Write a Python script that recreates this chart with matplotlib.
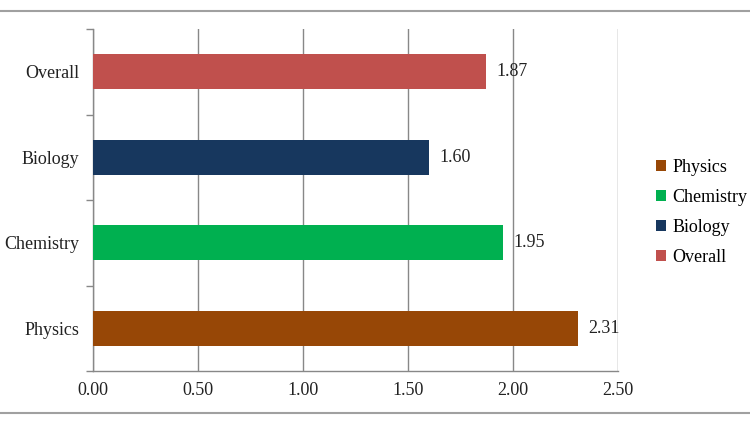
import matplotlib
matplotlib.use("Agg")
import matplotlib.pyplot as plt
from matplotlib.lines import Line2D
from matplotlib.patches import Patch

categories = ["Physics", "Chemistry", "Biology", "Overall"]
values = [2.31, 1.95, 1.60, 1.87]
colors = ["#974706", "#00B050", "#17375E", "#C0504D"]
xticks = [0.0, 0.5, 1.0, 1.5, 2.0, 2.5]
xtick_labels = ["0.00", "0.50", "1.00", "1.50", "2.00", "2.50"]

plt.rcParams['font.family'] = ['Liberation Serif', 'DejaVu Serif']
FS = 13

fig = plt.figure(figsize=(7.5, 4.26), dpi=100)
ax = fig.add_axes([93/750, 1-371/426, (618-93)/750, (371-29)/426])

ypos = list(range(len(categories)))
ax.barh(ypos, values, height=0.41, color=colors, zorder=3)
for y, v in zip(ypos, values):
    ax.text(v + 0.05, y, f"{v:.2f}", va="center", ha="left", fontsize=FS, color="#222222", zorder=4)

ax.set_xlim(0, 2.5)
ax.set_ylim(-0.5, len(categories) - 0.5)
ax.set_xticks(xticks)
ax.set_xticklabels(xtick_labels, fontsize=FS, color="#222222")
ax.set_yticks(ypos)
ax.set_yticklabels(categories, fontsize=FS, color="#222222")
ax.set_yticks([i - 0.5 for i in range(len(categories) + 1)], minor=True)
ax.tick_params(axis="y", which="major", length=0, pad=10)
ax.tick_params(axis="y", which="minor", length=5, color="#888888", width=1)
ax.tick_params(axis="x", length=0, pad=8)
ax.grid(axis="x", color="#888888", linewidth=1, zorder=0)
for s in ["top", "right"]:
    ax.spines[s].set_visible(False)
for s in ["left", "bottom"]:
    ax.spines[s].set_color("#888888")
    ax.spines[s].set_linewidth(1)

handles = [Patch(facecolor=c, edgecolor="none") for c in colors]
fig.legend(handles, categories, loc="center left", bbox_to_anchor=(647/750, 1-212/426),
           frameon=False, fontsize=FS, handlelength=0.55, handleheight=0.55,
           handletextpad=0.35, labelspacing=0.72, borderpad=0)

fig.add_artist(Line2D([0, 1], [1-11/426, 1-11/426], transform=fig.transFigure, color="#A0A0A0", linewidth=1.5))
fig.add_artist(Line2D([0, 1], [1-413/426, 1-413/426], transform=fig.transFigure, color="#A0A0A0", linewidth=1.5))

fig.savefig("out.png", dpi=100)
